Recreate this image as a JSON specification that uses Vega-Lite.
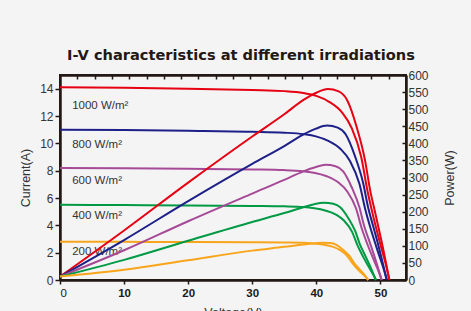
{
  "$schema": "https://vega.github.io/schema/vega-lite/v6.json",
  "autosize": "none",
  "width": 346,
  "height": 205,
  "padding": {"left": 60, "top": 75, "right": 65, "bottom": 31},
  "background": "#f4f4f4",
  "title": {
    "text": "I-V characteristics at different irradiations",
    "font": "DejaVu Sans",
    "fontSize": 14.6,
    "fontWeight": "bold",
    "color": "#231815",
    "anchor": "middle",
    "dx": 8,
    "offset": -6,
    "baseline": "alphabetic"
  },
  "config": {
    "view": {"stroke": "#231815", "strokeWidth": 2},
    "axis": {
      "grid": false,
      "domainColor": "#231815",
      "domainWidth": 2.5,
      "tickColor": "#231815",
      "tickWidth": 1.5,
      "labelFont": "Liberation Sans",
      "titleFont": "Liberation Sans",
      "labelColor": "#333333",
      "titleColor": "#333333",
      "titleFontWeight": "normal",
      "labelOverlap": false
    }
  },
  "datasets": {
    "iv": [
      {"irr": "1000", "V": 0, "I": 14.1}, {"irr": "1000", "V": 10, "I": 14.06}, {"irr": "1000", "V": 20, "I": 14.0}, {"irr": "1000", "V": 30, "I": 13.9}, {"irr": "1000", "V": 35, "I": 13.82}, {"irr": "1000", "V": 38, "I": 13.68}, {"irr": "1000", "V": 40, "I": 13.47}, {"irr": "1000", "V": 42, "I": 13.04}, {"irr": "1000", "V": 44, "I": 12.27}, {"irr": "1000", "V": 45.5, "I": 11.14}, {"irr": "1000", "V": 47, "I": 9.02}, {"irr": "1000", "V": 48, "I": 6.49}, {"irr": "1000", "V": 49, "I": 4.44}, {"irr": "1000", "V": 50, "I": 2.61}, {"irr": "1000", "V": 51, "I": 0.85}, {"irr": "1000", "V": 51.4, "I": 0},
      {"irr": "800", "V": 0, "I": 11.0}, {"irr": "800", "V": 10, "I": 10.97}, {"irr": "800", "V": 20, "I": 10.92}, {"irr": "800", "V": 30, "I": 10.85}, {"irr": "800", "V": 35, "I": 10.78}, {"irr": "800", "V": 38, "I": 10.67}, {"irr": "800", "V": 39.94, "I": 10.51}, {"irr": "800", "V": 41.88, "I": 10.18}, {"irr": "800", "V": 43.82, "I": 9.57}, {"irr": "800", "V": 45.28, "I": 8.69}, {"irr": "800", "V": 46.73, "I": 7.04}, {"irr": "800", "V": 47.7, "I": 5.06}, {"irr": "800", "V": 48.67, "I": 3.47}, {"irr": "800", "V": 49.64, "I": 2.04}, {"irr": "800", "V": 50.61, "I": 0.66}, {"irr": "800", "V": 51.0, "I": 0},
      {"irr": "600", "V": 0, "I": 8.2}, {"irr": "600", "V": 10, "I": 8.18}, {"irr": "600", "V": 20, "I": 8.14}, {"irr": "600", "V": 30, "I": 8.09}, {"irr": "600", "V": 35, "I": 8.04}, {"irr": "600", "V": 38, "I": 7.95}, {"irr": "600", "V": 39.82, "I": 7.83}, {"irr": "600", "V": 41.64, "I": 7.59}, {"irr": "600", "V": 43.46, "I": 7.13}, {"irr": "600", "V": 44.83, "I": 6.48}, {"irr": "600", "V": 46.19, "I": 5.25}, {"irr": "600", "V": 47.1, "I": 3.77}, {"irr": "600", "V": 48.01, "I": 2.58}, {"irr": "600", "V": 48.92, "I": 1.52}, {"irr": "600", "V": 49.84, "I": 0.49}, {"irr": "600", "V": 50.2, "I": 0},
      {"irr": "400", "V": 0, "I": 5.5}, {"irr": "400", "V": 10, "I": 5.48}, {"irr": "400", "V": 20, "I": 5.46}, {"irr": "400", "V": 30, "I": 5.42}, {"irr": "400", "V": 35, "I": 5.39}, {"irr": "400", "V": 38, "I": 5.34}, {"irr": "400", "V": 39.69, "I": 5.25}, {"irr": "400", "V": 41.37, "I": 5.09}, {"irr": "400", "V": 43.06, "I": 4.79}, {"irr": "400", "V": 44.32, "I": 4.35}, {"irr": "400", "V": 45.59, "I": 3.52}, {"irr": "400", "V": 46.43, "I": 2.53}, {"irr": "400", "V": 47.28, "I": 1.73}, {"irr": "400", "V": 48.12, "I": 1.02}, {"irr": "400", "V": 48.96, "I": 0.33}, {"irr": "400", "V": 49.3, "I": 0},
      {"irr": "200", "V": 0, "I": 2.8}, {"irr": "200", "V": 10, "I": 2.79}, {"irr": "200", "V": 20, "I": 2.78}, {"irr": "200", "V": 30, "I": 2.76}, {"irr": "200", "V": 35, "I": 2.74}, {"irr": "200", "V": 38, "I": 2.72}, {"irr": "200", "V": 39.51, "I": 2.67}, {"irr": "200", "V": 41.01, "I": 2.59}, {"irr": "200", "V": 42.52, "I": 2.44}, {"irr": "200", "V": 43.65, "I": 2.21}, {"irr": "200", "V": 44.78, "I": 1.79}, {"irr": "200", "V": 45.54, "I": 1.29}, {"irr": "200", "V": 46.29, "I": 0.88}, {"irr": "200", "V": 47.04, "I": 0.52}, {"irr": "200", "V": 47.8, "I": 0.17}, {"irr": "200", "V": 48.1, "I": 0}
    ],
    "pv": [
      {"irr": "1000", "V": 0, "P": 10}, {"irr": "1000", "V": 10, "P": 145}, {"irr": "1000", "V": 20, "P": 285}, {"irr": "1000", "V": 30, "P": 420}, {"irr": "1000", "V": 35, "P": 485}, {"irr": "1000", "V": 38, "P": 527}, {"irr": "1000", "V": 40, "P": 548}, {"irr": "1000", "V": 41.8, "P": 559}, {"irr": "1000", "V": 43.5, "P": 552}, {"irr": "1000", "V": 44.8, "P": 527}, {"irr": "1000", "V": 46.3, "P": 448}, {"irr": "1000", "V": 47.6, "P": 351}, {"irr": "1000", "V": 48.4, "P": 263}, {"irr": "1000", "V": 49.2, "P": 196}, {"irr": "1000", "V": 50.2, "P": 112}, {"irr": "1000", "V": 51.4, "P": 0},
      {"irr": "800", "V": 0, "P": 10}, {"irr": "800", "V": 10, "P": 117}, {"irr": "800", "V": 20, "P": 231}, {"irr": "800", "V": 30, "P": 340}, {"irr": "800", "V": 35, "P": 392}, {"irr": "800", "V": 38, "P": 426}, {"irr": "800", "V": 39.94, "P": 443}, {"irr": "800", "V": 41.69, "P": 452}, {"irr": "800", "V": 43.34, "P": 446}, {"irr": "800", "V": 44.6, "P": 426}, {"irr": "800", "V": 46.05, "P": 362}, {"irr": "800", "V": 47.31, "P": 284}, {"irr": "800", "V": 48.09, "P": 212}, {"irr": "800", "V": 48.87, "P": 158}, {"irr": "800", "V": 49.84, "P": 90}, {"irr": "800", "V": 51.0, "P": 0},
      {"irr": "600", "V": 0, "P": 10}, {"irr": "600", "V": 10, "P": 87}, {"irr": "600", "V": 20, "P": 172}, {"irr": "600", "V": 30, "P": 253}, {"irr": "600", "V": 35, "P": 293}, {"irr": "600", "V": 38, "P": 318}, {"irr": "600", "V": 39.82, "P": 330}, {"irr": "600", "V": 41.46, "P": 337}, {"irr": "600", "V": 43.01, "P": 333}, {"irr": "600", "V": 44.19, "P": 318}, {"irr": "600", "V": 45.56, "P": 270}, {"irr": "600", "V": 46.74, "P": 212}, {"irr": "600", "V": 47.47, "P": 158}, {"irr": "600", "V": 48.2, "P": 118}, {"irr": "600", "V": 49.11, "P": 67}, {"irr": "600", "V": 50.2, "P": 0},
      {"irr": "400", "V": 0, "P": 10}, {"irr": "400", "V": 10, "P": 59}, {"irr": "400", "V": 20, "P": 115}, {"irr": "400", "V": 30, "P": 170}, {"irr": "400", "V": 35, "P": 196}, {"irr": "400", "V": 38, "P": 213}, {"irr": "400", "V": 39.69, "P": 222}, {"irr": "400", "V": 41.2, "P": 226}, {"irr": "400", "V": 42.64, "P": 223}, {"irr": "400", "V": 43.73, "P": 213}, {"irr": "400", "V": 45.0, "P": 181}, {"irr": "400", "V": 46.1, "P": 142}, {"irr": "400", "V": 46.77, "P": 106}, {"irr": "400", "V": 47.44, "P": 79}, {"irr": "400", "V": 48.29, "P": 45}, {"irr": "400", "V": 49.3, "P": 0},
      {"irr": "200", "V": 0, "P": 10}, {"irr": "200", "V": 10, "P": 30}, {"irr": "200", "V": 20, "P": 58}, {"irr": "200", "V": 30, "P": 86}, {"irr": "200", "V": 35, "P": 97}, {"irr": "200", "V": 38, "P": 104}, {"irr": "200", "V": 39.51, "P": 107}, {"irr": "200", "V": 40.86, "P": 109}, {"irr": "200", "V": 42.15, "P": 108}, {"irr": "200", "V": 43.13, "P": 103}, {"irr": "200", "V": 44.26, "P": 87}, {"irr": "200", "V": 45.24, "P": 69}, {"irr": "200", "V": 45.84, "P": 51}, {"irr": "200", "V": 46.44, "P": 38}, {"irr": "200", "V": 47.2, "P": 22}, {"irr": "200", "V": 48.1, "P": 0}
    ],
    "labels": [
      {"label": "1000 W/m²", "V": 1.9, "I": 12.75},
      {"label": "800 W/m²", "V": 1.9, "I": 9.88},
      {"label": "600 W/m²", "V": 1.9, "I": 7.24},
      {"label": "400 W/m²", "V": 1.9, "I": 4.7},
      {"label": "200 W/m²", "V": 1.9, "I": 2.07}
    ]
  },
  "layer": [
    {
      "layer": [
        {
          "data": {"name": "iv"},
          "mark": {"type": "line", "interpolate": "monotone", "strokeWidth": 2},
          "encoding": {
            "x": {
              "field": "V", "type": "quantitative",
              "scale": {"domain": [0, 54], "nice": false},
              "axis": {
                "orient": "bottom",
                "values": [0, 10, 20, 30, 40, 50],
                "labelFontSize": 11.5,
                "labelFontWeight": {"condition": {"test": "datum.value == 0", "value": "normal"}, "value": "bold"},
                "labelColor": "#231815",
                "labelPadding": 3,
                "tickSize": 4,
                "title": "Voltage(V)",
                "titleFontSize": 12.5,
                "titlePadding": 8
              }
            },
            "y": {
              "field": "I", "type": "quantitative",
              "scale": {"domain": [0, 15], "nice": false},
              "axis": {
                "orient": "left",
                "values": [0, 2, 4, 6, 8, 10, 12, 14],
                "labelFontSize": 12,
                "labelPadding": 2,
                "tickSize": 5,
                "title": "Current(A)",
                "titleFontSize": 12.5,
                "titlePadding": 7
              }
            },
            "color": {
              "field": "irr", "type": "nominal",
              "scale": {"domain": ["1000", "800", "600", "400", "200"], "range": ["#e60012", "#1d2088", "#a64a97", "#009944", "#f8a51b"]},
              "legend": null
            }
          }
        },
        {
          "data": {"name": "labels"},
          "mark": {"type": "text", "align": "left", "baseline": "middle", "font": "Liberation Sans", "fontSize": 11.5, "color": "#333333"},
          "encoding": {
            "x": {
              "field": "V", "type": "quantitative",
              "axis": {
                "orient": "bottom",
                "values": [0, 10, 20, 30, 40, 50],
                "labelFontSize": 11.5,
                "labelFontWeight": {"condition": {"test": "datum.value == 0", "value": "normal"}, "value": "bold"},
                "labelColor": "#231815",
                "labelPadding": 3,
                "tickSize": 4,
                "title": "Voltage(V)",
                "titleFontSize": 12.5,
                "titlePadding": 8
              }
            },
            "y": {
              "field": "I", "type": "quantitative",
              "axis": {
                "orient": "left",
                "values": [0, 2, 4, 6, 8, 10, 12, 14],
                "labelFontSize": 12,
                "labelPadding": 2,
                "tickSize": 5,
                "title": "Current(A)",
                "titleFontSize": 12.5,
                "titlePadding": 7
              }
            },
            "text": {"field": "label"}
          }
        }
      ]
    },
    {
      "data": {"name": "pv"},
      "mark": {"type": "line", "interpolate": "monotone", "strokeWidth": 2},
      "encoding": {
        "x": {
          "field": "V", "type": "quantitative",
          "axis": {
            "orient": "top",
            "labels": false,
            "title": null,
            "values": [2.7, 5.4, 8.1, 10.8, 13.5, 16.2, 18.9, 21.6, 24.3, 27, 29.7, 32.4, 35.1, 37.8, 40.5, 43.2, 45.9, 48.6, 51.3],
            "tickSize": -4
          }
        },
        "y": {
          "field": "P", "type": "quantitative",
          "scale": {"domain": [0, 600], "nice": false},
          "axis": {
            "orient": "right",
            "values": [0, 50, 100, 150, 200, 250, 300, 350, 400, 450, 500, 550, 600],
            "labelFontSize": 12,
            "tickSize": -4,
            "labelPadding": 6,
            "title": "Power(W)",
            "titleFontSize": 12.5,
            "titleAngle": 270,
            "titlePadding": 28
          }
        },
        "color": {"field": "irr", "type": "nominal", "legend": null}
      }
    }
  ],
  "resolve": {"scale": {"y": "independent"}, "axis": {"x": "independent"}}
}
